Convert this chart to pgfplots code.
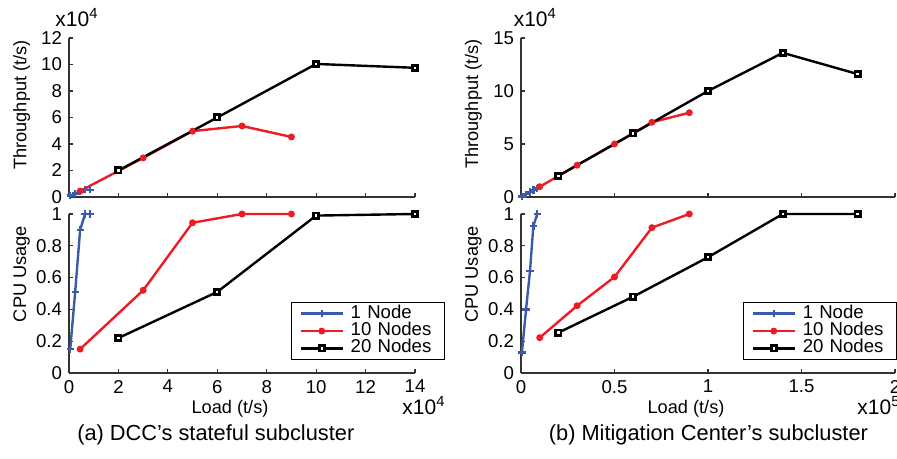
\documentclass[border=0pt]{standalone}
\usepackage{fontspec}
\setmainfont{Liberation Sans}
\usepackage{pgfplots}
\pgfplotsset{compat=1.18}
\definecolor{cBlue}{HTML}{3B5BA9}
\definecolor{cRed}{HTML}{ED1C24}

\pgfplotsset{
  mlpanel/.style={
    scale only axis,
    anchor=south west,
    axis lines*=left,
    axis line style={line width=0.6pt, black!80},
    tick align=inside,
    major tick length=2pt,
    tick style={line width=0.6pt, black!80},
    tick label style={font=\fontsize{9.3}{10}\selectfont},
    /pgf/number format/assume math mode=true,
    scaled ticks=false,
    clip=false,
    legend image code/.code={\draw[mark repeat=2,mark phase=2] plot coordinates {(0pt,0pt) (10.5pt,0pt) (21pt,0pt)};},
  },
  mllegend/.style={
    legend cell align=left,
    legend style={
      at={(#1,0.448)}, anchor=north west,
      draw=black, line width=0.6pt, fill=white,
      inner xsep=3.9pt, inner ysep=1.3pt,
      column sep=3.4pt, row sep=0pt,
      font=\fontsize{9.3}{10}\selectfont,
      nodes={inner xsep=0pt, inner ysep=0.3pt, text height=6.3pt, text depth=1.8pt, text width=42.8pt},
    },
  },
  sOne/.style={color=cBlue, line width=1.2pt, mark=+, mark size=1.8pt, mark options={line width=1.2pt}},
  sTen/.style={color=cRed, line width=1.2pt, mark=*, mark size=1.1pt},
  sTwenty/.style={color=black, line width=1.2pt, mark=square*, mark size=1.3pt, mark options={line width=1.4pt, fill=white}},
}

\begin{document}
\begin{tikzpicture}[x=1pt,y=1pt]
% (a) throughput
\begin{axis}[mlpanel, at={(34.5pt,131pt)}, width=173pt, height=79.5pt,
  xmin=0, xmax=14, ymin=0, ymax=12,
  xtick={0,2,...,14}, xticklabels={}, ytick={0,2,...,12}]
\addplot[sOne] coordinates {(0.05,0.1)(0.25,0.26)(0.45,0.42)(0.65,0.55)(0.85,0.55)};
\addplot[sTen] coordinates {(0.45,0.45)(3,2.95)(5,4.97)(7,5.36)(9,4.53)};
\addplot[sTwenty] coordinates {(2,2)(6,6)(10,10.04)(14,9.75)};
\end{axis}
% (a) cpu
\begin{axis}[mlpanel, mllegend=0.642, at={(34.5pt,43pt)}, width=173pt, height=79.5pt,
  xmin=0, xmax=14, ymin=0, ymax=1,
  xtick={0,2,...,14}, ytick={0,0.2,0.4,0.6,0.8,1}]
\addplot[sOne] coordinates {(0.05,0.15)(0.25,0.51)(0.45,0.90)(0.65,1.0)(0.85,1.0)};
\addplot[sTen] coordinates {(0.45,0.15)(3,0.52)(5,0.945)(7,1.0)(9,1.0)};
\addplot[sTwenty] coordinates {(2,0.22)(6,0.51)(10,0.99)(14,1.0)};
\legend{1 Node, 10 Nodes, 20 Nodes}
\end{axis}
% (b) throughput
\begin{axis}[mlpanel, at={(260.5pt,131pt)}, width=187pt, height=79.5pt,
  xmin=0, xmax=2, ymin=0, ymax=15,
  xtick={0,0.5,1,1.5,2}, xticklabels={}, ytick={0,5,10,15}]
\addplot[sOne] coordinates {(0.005,0.05)(0.027,0.27)(0.048,0.48)(0.066,0.66)(0.087,0.8)};
\addplot[sTen] coordinates {(0.1,0.97)(0.3,3.0)(0.5,5.0)(0.7,7.05)(0.9,7.95)};
\addplot[sTwenty] coordinates {(0.2,2.0)(0.6,6.0)(1.0,10.0)(1.4,13.6)(1.8,11.6)};
\end{axis}
% (b) cpu
\begin{axis}[mlpanel, mllegend=0.594, at={(260.5pt,43pt)}, width=187pt, height=79.5pt,
  xmin=0, xmax=2, ymin=0, ymax=1,
  xtick={0,0.5,1,1.5,2}, ytick={0,0.2,0.4,0.6,0.8,1}]
\addplot[sOne] coordinates {(0.005,0.13)(0.027,0.40)(0.048,0.64)(0.066,0.925)(0.087,1.0)};
\addplot[sTen] coordinates {(0.1,0.222)(0.3,0.423)(0.5,0.604)(0.7,0.914)(0.9,1.0)};
\addplot[sTwenty] coordinates {(0.2,0.254)(0.6,0.48)(1.0,0.728)(1.4,1.0)(1.8,1.0)};
\legend{1 Node, 10 Nodes, 20 Nodes}
\end{axis}

\begin{scope}[every node/.style={font=\fontsize{9.1}{10}\selectfont, inner sep=0pt}]
\node[rotate=90] at (10.8,177) {Throughput (t/s)};
\node[rotate=90] at (10.8,92.5) {CPU Usage};
\node[rotate=90] at (236.7,177.5) {Throughput (t/s)};
\node[rotate=90] at (236.7,92.2) {CPU Usage};
\node[anchor=base] at (115,22.8) {Load (t/s)};
\node[anchor=base] at (343,22.8) {Load (t/s)};
\end{scope}
\begin{scope}[every node/.style={font=\fontsize{10.5}{12}\selectfont, inner sep=0pt}]
\node[anchor=base west] at (27.5,216.2) {x10\textsuperscript{4}};
\node[anchor=base west] at (256.7,216.2) {x10\textsuperscript{4}};
\node[anchor=base west] at (201,22.3) {x10\textsuperscript{4}};
\node[anchor=base west] at (428.5,22.3) {x10\textsuperscript{5}};
\end{scope}
\begin{scope}[every node/.style={font=\fontsize{10.9}{12}\selectfont, inner sep=0pt}]
\node[anchor=base] at (107.9,9) {(a) DCC’s stateful subcluster};
\node[anchor=base] at (354.2,9) {(b) Mitigation Center’s subcluster};
\end{scope}
\pgfresetboundingbox
\path (0,0) rectangle (448.5,229.5);
\end{tikzpicture}
\end{document}
